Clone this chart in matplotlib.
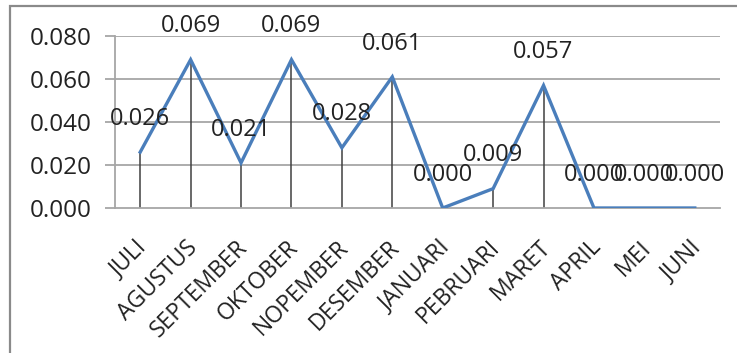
import matplotlib
matplotlib.use('Agg')
import matplotlib.pyplot as plt
import matplotlib.transforms as mtransforms
from matplotlib.patches import Rectangle

# Data
months = ['JULI', 'AGUSTUS', 'SEPTEMBER', 'OKTOBER', 'NOPEMBER', 'DESEMBER',
          'JANUARI', 'PEBRUARI', 'MARET', 'APRIL', 'MEI', 'JUNI']
values = [0.026, 0.069, 0.021, 0.069, 0.028, 0.061,
          0.000, 0.009, 0.057, 0.000, 0.000, 0.000]
y_ticks = [0.000, 0.020, 0.040, 0.060, 0.080]

plt.rcParams['font.family'] = ['Open Sans', 'DejaVu Sans']

W, H = 737, 353
fig = plt.figure(figsize=(W / 100, H / 100), dpi=100)
fig.patch.set_facecolor('white')

# outer chart border (cropped on right and bottom)
fig.patches.append(Rectangle((10 / W, -0.2), 1.2, 1.2 - 6 / H,
                             transform=fig.transFigure, fill=False,
                             edgecolor='#8a8a8a', linewidth=1.6))

ax = fig.add_axes([115 / W, 1 - 208 / H, 605 / W, 172 / H])
x = list(range(len(months)))

# gridlines
for t in y_ticks[1:]:
    ax.axhline(t, color='#a6a6a6', linewidth=1.3, zorder=1)

# drop lines
ax.vlines(x, 0, values, color='#404040', linewidth=1.1, zorder=2)

ax.plot(x, values, color='#4a7ebb', linewidth=2.4, zorder=3,
        solid_joinstyle='miter')

for xi, v in zip(x, values):
    ax.annotate(f'{v:.3f}', (xi, v), textcoords='offset points',
                xytext=(0, 24), ha='center', va='center',
                fontsize=17, color='#222222', zorder=4)

ax.set_xlim(-0.5, len(months) - 0.5)
ax.set_ylim(0, 0.08)
ax.set_yticks(y_ticks)
ax.set_yticklabels([f'{t:.3f}' for t in y_ticks], fontsize=17.5, color='#222222')
ax.tick_params(axis='y', length=7, width=1.3, color='#a6a6a6', pad=10)

ax.set_xticks(x)
ax.set_xticklabels(months, rotation=45, ha='right', rotation_mode='anchor',
                   fontsize=16.5, color='#222222')
ax.tick_params(axis='x', length=0, pad=20)
shift = mtransforms.ScaledTranslation(-5 / 100, 0, fig.dpi_scale_trans)
for lbl in ax.get_xticklabels():
    lbl.set_transform(lbl.get_transform() + shift)

for side in ['top', 'right']:
    ax.spines[side].set_visible(False)
ax.spines['left'].set_color('#a6a6a6')
ax.spines['left'].set_linewidth(1.3)
ax.spines['bottom'].set_color('#a6a6a6')
ax.spines['bottom'].set_linewidth(1.3)
ax.set_facecolor('none')

fig.savefig('out.png', dpi=100, facecolor='white')
